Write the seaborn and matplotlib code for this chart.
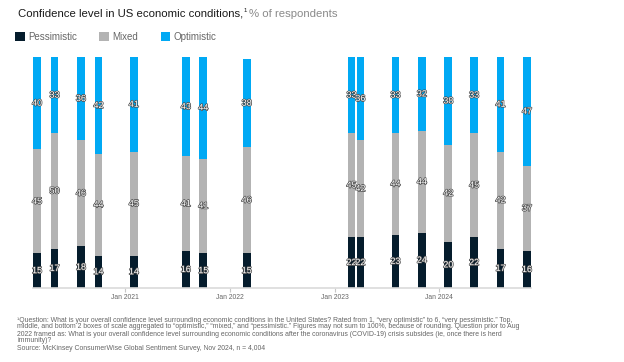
import matplotlib
matplotlib.use("Agg")
import matplotlib.pyplot as plt
import matplotlib.dates as mdates
import matplotlib.patheffects as pe
from matplotlib.patches import Patch
import seaborn as sns
import pandas as pd
import numpy as np

# survey waves and shares (% of respondents)
waves = ["2020-03-01", "2020-05-01", "2020-08-01", "2020-10-01", "2021-02-01",
         "2021-08-01", "2021-10-01", "2022-03-01", "2023-03-01", "2023-04-01",
         "2023-08-01", "2023-11-01", "2024-02-01", "2024-05-01", "2024-08-01",
         "2024-11-01"]
pessimistic = [15, 17, 18, 14, 14, 16, 15, 15, 22, 22, 23, 24, 20, 22, 17, 16]
mixed = [45, 50, 46, 44, 45, 41, 41, 46, 45, 42, 44, 44, 42, 45, 42, 37]
optimistic = [40, 33, 36, 42, 41, 43, 44, 38, 33, 36, 33, 32, 38, 33, 41, 47]

labels = ["Pessimistic", "Mixed", "Optimistic"]
colors = ["#051c2c", "#b3b3b3", "#00a9f4"]

footnote = ("\u00b9Question: What is your overall confidence level surrounding economic conditions in the United States? "
            "Rated from 1, \u201cvery optimistic\u201d to 6, \u201cvery pessimistic.\u201d Top,\n"
            "middle, and bottom 2 boxes of scale aggregated to \u201coptimistic,\u201d \u201cmixed,\u201d and "
            "\u201cpessimistic.\u201d Figures may not sum to 100%, because of rounding. Question prior to Aug\n"
            "2022 framed as: What is your overall confidence level surrounding economic conditions after the "
            "coronavirus (COVID-19) crisis subsides (ie, once there is herd\n"
            "immunity)?\n"
            "Source: McKinsey ConsumerWise Global Sentiment Survey, Nov 2024, n = 4,004")

sns.set_theme(style="white")
plt.rcParams["font.family"] = ["Liberation Sans", "DejaVu Sans"]

df = pd.DataFrame({"date": pd.to_datetime(waves),
                   "Pessimistic": pessimistic, "Mixed": mixed, "Optimistic": optimistic})
df["x"] = mdates.date2num(df["date"])
df["pm"] = df["Pessimistic"] + df["Mixed"]
df["total"] = df["pm"] + df["Optimistic"]

fig = plt.figure(figsize=(6.24, 3.62), dpi=100)
ax = fig.add_axes([33 / 624, 74 / 362, 498 / 624, 231 / 362])

# layered bars: total, then pess+mixed, then pess
for col, c in [("total", colors[2]), ("pm", colors[1]), ("Pessimistic", colors[0])]:
    sns.barplot(data=df, x="x", y=col, native_scale=True, width=0.9, color=c,
                saturation=1, errorbar=None, linewidth=0, ax=ax)

# bars are ~27 days wide
bar_w = 27
for p in ax.patches:
    cx = p.get_x() + p.get_width() / 2
    p.set_width(bar_w)
    p.set_x(cx - bar_w / 2)

halo = [pe.withStroke(linewidth=1.0, foreground="#4a4a4a")]
for _, r in df.iterrows():
    bottoms = [0, r["Pessimistic"], r["pm"]]
    for b, v in zip(bottoms, [r["Pessimistic"], r["Mixed"], r["Optimistic"]]):
        ax.text(r["x"], b + v / 2, str(v), ha="center", va="center", fontsize=6.5,
                color="white", path_effects=halo)

ax.set_xlim(df["x"].min() - 14, df["x"].max() + 14)
ax.set_ylim(0, 100)
ax.xaxis.set_major_locator(mdates.YearLocator())
ax.xaxis.set_major_formatter(mdates.DateFormatter("Jan %Y"))
ax.set_yticks([])
ax.set_xlabel("")
ax.set_ylabel("")
sns.despine(ax=ax, left=True)
ax.spines["bottom"].set_color("#dadada")
ax.spines["bottom"].set_linewidth(1.2)
ax.tick_params(axis="x", length=3, width=0.8, color="#c8c8c8", labelsize=4.9,
               labelcolor="#666666", pad=1.5, bottom=True)

# title with superscript and gray unit
renderer = fig.canvas.get_renderer()
t1 = fig.text(18 / 624, 1 - 14 / 362, "Confidence level in US economic conditions,",
              fontsize=8.2, color="#1a1a1a", va="center")
bb = t1.get_window_extent(renderer)
t2 = fig.text(bb.x1 / 624 + 0.5 / 624, 1 - 11 / 362, "1", fontsize=4.4,
              color="#1a1a1a", va="center")
bb2 = t2.get_window_extent(renderer)
fig.text(bb2.x1 / 624 + 2 / 624, 1 - 14 / 362, "% of respondents",
         fontsize=8.2, color="#8a8a8a", va="center")

handles = [Patch(facecolor=c, edgecolor="none") for c in colors]
fig.legend(handles, labels, loc="center left", bbox_to_anchor=(15 / 624, 1 - 37 / 362),
           ncol=3, frameon=False, fontsize=7, handlelength=1.0, handleheight=1.0,
           handletextpad=0.35, columnspacing=2.3, borderpad=0, borderaxespad=0,
           labelcolor="#666666")

fig.text(17 / 624, 1 - 316.5 / 362, footnote, fontsize=4.95, color="#666666",
         va="top", linespacing=1.0)

fig.savefig("out.png", dpi=100)
